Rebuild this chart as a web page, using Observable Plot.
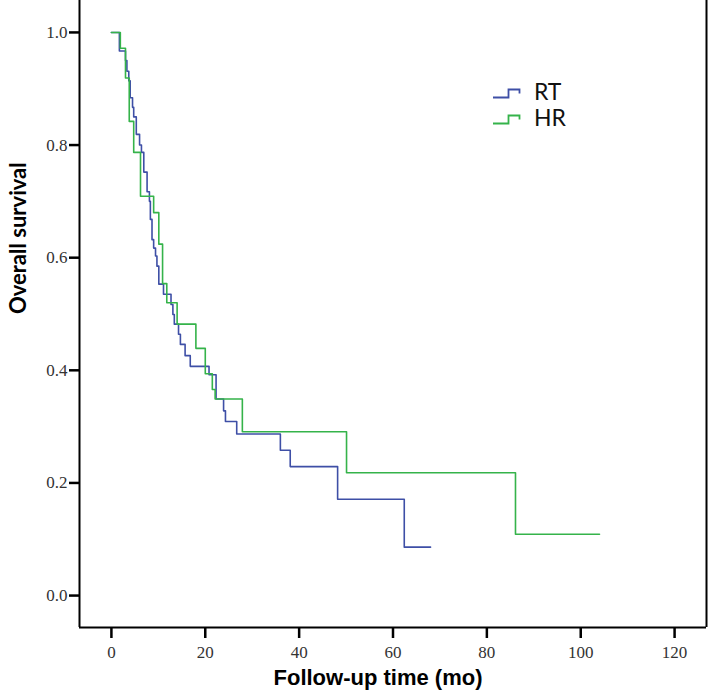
<!DOCTYPE html>
<html><head><meta charset="utf-8">
<script src="https://cdn.jsdelivr.net/npm/d3@7"></script>
<script src="https://cdn.jsdelivr.net/npm/@observablehq/plot@0.6"></script>
<style>
body{margin:0;background:#fff;}
#wrap{position:relative;width:709px;height:698px;}
.legtxt{position:absolute;font-family:Lato,"Open Sans",sans-serif;font-size:23px;color:#111;line-height:1;}
.legicon{position:absolute;}
</style></head><body><div id="wrap"></div>
<script>
// Kaplan-Meier step points (time in months, survival)
const rtTime = [0, 1.7, 3.0, 3.3, 3.7, 4.0, 4.5, 4.75, 5.3, 6.0, 6.4, 6.9, 7.6, 8.1, 8.3, 8.65, 9.0, 9.4, 9.7, 10.1, 11.1, 12.7, 13.1, 13.4, 14.3, 14.7, 15.7, 16.8, 20.8, 22.3, 23.9, 24.3, 26.7, 36.0, 38.1, 48.2, 62.4, 68.0];
const rtSurv = [1.0, 0.967, 0.950, 0.931, 0.914, 0.884, 0.867, 0.850, 0.819, 0.800, 0.787, 0.752, 0.717, 0.700, 0.668, 0.632, 0.617, 0.603, 0.585, 0.553, 0.535, 0.517, 0.499, 0.482, 0.464, 0.446, 0.426, 0.407, 0.392, 0.349, 0.328, 0.309, 0.287, 0.258, 0.229, 0.171, 0.086, 0.086];
const hrTime = [0, 1.9, 3.0, 3.8, 4.75, 6.2, 9.0, 10.1, 10.9, 11.8, 14.0, 18.0, 20.0, 21.5, 22.1, 27.9, 50.1, 86.1, 104.0];
const hrSurv = [1.0, 0.972, 0.919, 0.842, 0.787, 0.709, 0.680, 0.624, 0.554, 0.520, 0.482, 0.439, 0.394, 0.366, 0.349, 0.291, 0.218, 0.109, 0.109];

const groups = ["RT", "HR"];
const colors = ["#3e4fa6", "#35b34a"];
const xTicks = [0, 20, 40, 60, 80, 100, 120];
const yTicks = [0, 0.2, 0.4, 0.6, 0.8, 1.0];
const xTitle = "Follow-up time (mo)";
const yTitle = "Overall survival";

const xDomain = [-6.8, 126.8];
const yDomain = [-0.0567, 1.0567];

const data = [
  ...rtTime.map((t, i) => ({group: "RT", t, s: rtSurv[i]})),
  ...hrTime.map((t, i) => ({group: "HR", t, s: hrSurv[i]}))
];

const chart = Plot.plot({
  width: 709,
  height: 698,
  marginLeft: 79,
  marginRight: 3,
  marginTop: 0,
  marginBottom: 71,
  style: {background: "#fff"},
  x: {domain: xDomain},
  y: {domain: yDomain},
  color: {domain: groups, range: colors},
  marks: [
    Plot.line(data, {x: "t", y: "s", z: "group", stroke: "group", curve: "step-after", strokeWidth: 1.6}),
    Plot.ruleX([xDomain[0]], {stroke: "#000", strokeWidth: 2}),
    Plot.ruleX([xDomain[1]], {stroke: "#000", strokeWidth: 2}),
    Plot.ruleY([yDomain[0]], {stroke: "#000", strokeWidth: 2}),
    Plot.axisX(xTicks, {anchor: "bottom", tickSize: 11, tickPadding: 7, strokeWidth: 2.5, stroke: "#000",
      fontSize: 17, fontFamily: "Liberation Serif", fill: "#333", label: null, tickFormat: d => String(d)}),
    Plot.axisY(yTicks, {anchor: "left", tickSize: 10, tickPadding: 2, strokeWidth: 2.5, stroke: "#000",
      fontSize: 17, fontFamily: "Liberation Serif", fill: "#333", label: null, tickFormat: d3.format(".1f")}),
    Plot.text([yTitle], {frameAnchor: "left", dx: -61, rotate: -90, fontSize: 22, fontWeight: "bold",
      fontFamily: "Lato, 'Open Sans', sans-serif", fill: "#000"}),
    Plot.text([xTitle], {frameAnchor: "bottom", dy: 57, dx: -15, fontSize: 22, fontWeight: "bold",
      fontFamily: "'Liberation Sans Narrow', 'Liberation Sans', sans-serif", fill: "#000"})
  ]
});
const wrap = document.getElementById("wrap");
wrap.appendChild(chart);

// legend
groups.forEach((g, i) => {
  const top = 84 + i * 26;
  const ns = "http://www.w3.org/2000/svg";
  const svg = document.createElementNS(ns, "svg");
  svg.setAttribute("width", 30); svg.setAttribute("height", 12);
  svg.setAttribute("class", "legicon");
  svg.style.left = "492px"; svg.style.top = (top + 3) + "px";
  const p = document.createElementNS(ns, "path");
  p.setAttribute("d", "M1,10.5H16.5V2.5H27.5V6.5");
  p.setAttribute("fill", "none");
  p.setAttribute("stroke", colors[i]);
  p.setAttribute("stroke-width", 1.8);
  svg.appendChild(p);
  wrap.appendChild(svg);
  const t = document.createElement("div");
  t.className = "legtxt";
  t.textContent = g;
  t.style.left = "534px"; t.style.top = (top - 4) + "px";
  wrap.appendChild(t);
});
</script></body></html>
